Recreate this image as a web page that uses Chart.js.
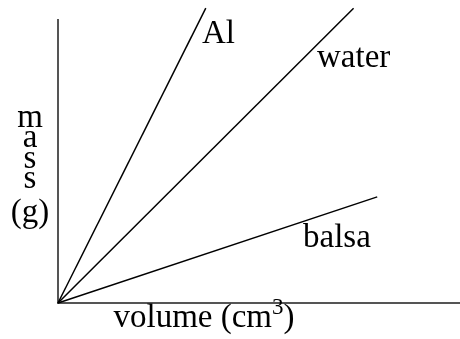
<!DOCTYPE html>
<html>
<head>
<meta charset="utf-8">
<script src="https://cdn.jsdelivr.net/npm/chart.js@4/dist/chart.umd.min.js"></script>
<style>
  html, body { margin: 0; padding: 0; background: #fff; }
  #wrap { width: 460px; height: 339px; }
</style>
</head>
<body>
<div id="wrap"><canvas id="chart"></canvas></div>
<script>
// Schematic mass vs volume lines (arbitrary units)
const seriesNames = ['Al', 'water', 'balsa'];
const alVolume = [0, 5];
const alMass = [0, 10];
const waterVolume = [0, 10];
const waterMass = [0, 10];
const balsaVolume = [0, 10.8];
const balsaMass = [0, 3.6];
const xMax = 13.6;
const yMax = 9.6;

const toPoints = (xs, ys) => xs.map((x, i) => ({ x: x, y: ys[i] }));

const FONT = '33px "Liberation Serif", "Times New Roman", serif';

// Draw the in-plot labels and the TeX-style axis labels
const labelPlugin = {
    id: 'labels',
    afterDraw(chart) {
        const ctx = chart.ctx;
        ctx.save();
        ctx.fillStyle = '#000';
        ctx.font = FONT;
        ctx.textBaseline = 'alphabetic';
        ctx.textAlign = 'left';

        // line labels
        ctx.fillText(seriesNames[0], 202, 43);
        ctx.fillText(seriesNames[1], 317, 67);
        ctx.fillText(seriesNames[2], 303, 247);

        // stacked y label
        ctx.textAlign = 'center';
        const stack = ['m', 'a', 's', 's', '(g)'];
        const baselines = [127, 147, 168, 188, 222];
        stack.forEach((s, i) => ctx.fillText(s, 30, baselines[i]));

        // x label with superscript
        ctx.textAlign = 'left';
        const main = 'volume (cm';
        const close = ')';
        const supFont = '23px "Liberation Serif", "Times New Roman", serif';
        const wMain = ctx.measureText(main).width;
        const wClose = ctx.measureText(close).width;
        ctx.font = supFont;
        const wSup = ctx.measureText('3').width;
        const total = wMain + wSup + wClose;
        let x = 204 - total / 2;
        const base = 327;
        ctx.font = FONT;
        ctx.fillText(main, x, base);
        x += wMain;
        ctx.font = supFont;
        ctx.fillText('3', x, base - 13);
        x += wSup;
        ctx.font = FONT;
        ctx.fillText(close, x, base);
        ctx.restore();
    }
};

const lineStyle = {
    borderColor: '#000',
    borderWidth: 1.5,
    pointRadius: 0,
    fill: false,
    clip: false,
    tension: 0
};

new Chart(document.getElementById('chart'), {
    type: 'line',
    data: {
        datasets: [
            { label: seriesNames[0], data: toPoints(alVolume, alMass), ...lineStyle },
            { label: seriesNames[1], data: toPoints(waterVolume, waterMass), ...lineStyle },
            { label: seriesNames[2], data: toPoints(balsaVolume, balsaMass), ...lineStyle }
        ]
    },
    options: {
        responsive: true,
        maintainAspectRatio: false,
        animation: false,
        layout: {
            padding: { left: 58, top: 20, right: 0, bottom: 36 }
        },
        plugins: {
            legend: { display: false },
            tooltip: { enabled: false }
        },
        scales: {
            x: {
                type: 'linear',
                min: 0,
                max: xMax,
                ticks: { display: false },
                grid: { display: false, drawTicks: false },
                border: { display: true, color: '#555', width: 2 }
            },
            y: {
                type: 'linear',
                min: 0,
                max: yMax,
                ticks: { display: false },
                grid: { display: false, drawTicks: false },
                border: { display: true, color: '#555', width: 2 }
            }
        }
    },
    plugins: [labelPlugin]
});
</script>
</body>
</html>
